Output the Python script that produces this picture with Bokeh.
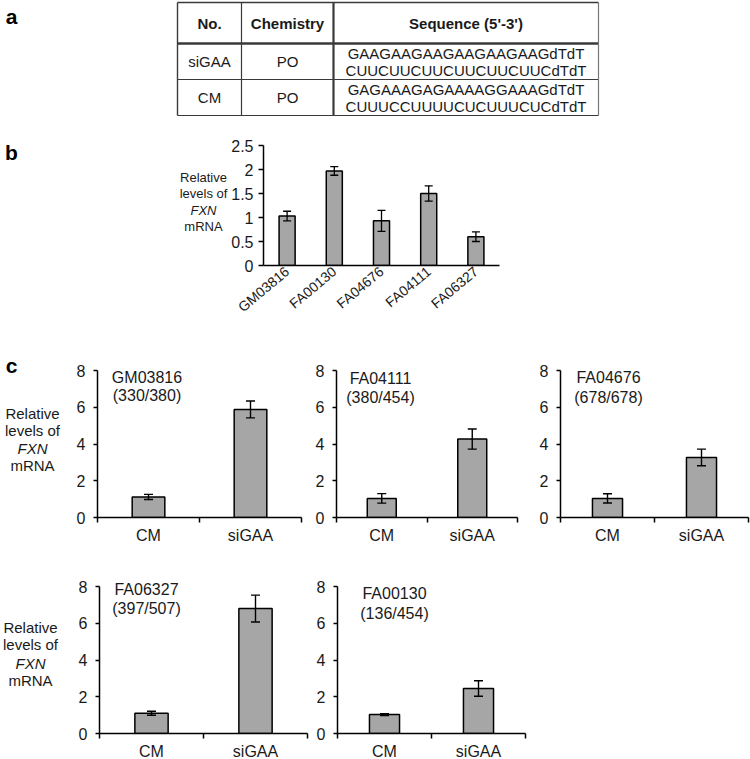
import math
from bokeh.plotting import figure
from bokeh.models import (Range1d, FixedTicker, Label, Whisker, TeeHead,
                          ColumnDataSource)
from bokeh.layouts import column, row
from bokeh.embed import file_html
from bokeh.resources import INLINE
from bokeh.core.properties import value

# ---------------- data ----------------
table_header = ["No.", "Chemistry", "Sequence (5'-3')"]
oligo_names = ["siGAA", "CM"]
oligo_chem = ["PO", "PO"]
oligo_sense = ["GAAGAAGAAGAAGAAGAAGdTdT", "GAGAAAGAGAAAAGGAAAGdTdT"]
oligo_antisense = ["CUUCUUCUUCUUCUUCUUCdTdT", "CUUUCCUUUUCUCUUUCUCdTdT"]

b_lines = ["GM03816", "FA00130", "FA04676", "FA04111", "FA06327"]
b_values = [1.03, 1.97, 0.93, 1.50, 0.60]
b_errors = [0.10, 0.09, 0.22, 0.16, 0.10]
b_ticks = [0, 0.5, 1, 1.5, 2, 2.5]

c_lines = ["GM03816", "FA04111", "FA04676", "FA06327", "FA00130"]
c_repeats = ["(330/380)", "(380/454)", "(678/678)", "(397/507)", "(136/454)"]
c_groups = ["CM", "siGAA"]
c_cm = [1.12, 1.04, 1.04, 1.10, 1.03]
c_cm_err = [0.14, 0.26, 0.25, 0.11, 0.05]
c_sigaa = [5.88, 4.27, 3.27, 6.80, 2.45]
c_sigaa_err = [0.46, 0.55, 0.45, 0.73, 0.42]
c_ticks = [0, 2, 4, 6, 8]

ylabel_lines = ["Relative", "levels of", "FXN", "mRNA"]

# ---------------- styling / layout ----------------
FONT = "Liberation Sans"
INK = "#1a1a1a"
BAR = "#a6a6a6"


def make_fig(box, frame, xr, yr, axes=True):
    x0, y0, x1, y1 = box
    fx0, fy0, fx1, fy1 = frame
    kw = {}
    if not axes:
        kw = dict(x_axis_location=None, y_axis_location=None)
    p = figure(frame_width=fx1 - fx0, frame_height=fy1 - fy0,
               x_range=Range1d(*xr), y_range=Range1d(*yr),
               min_border_left=fx0 - x0, min_border_right=x1 - fx1,
               min_border_top=fy0 - y0, min_border_bottom=y1 - fy1,
               output_backend="svg", toolbar_location=None, **kw)
    p.outline_line_color = None
    p.grid.visible = False
    p.background_fill_color = "white"
    p.border_fill_color = "white"
    return p


def text_fig(box):
    x0, y0, x1, y1 = box
    return make_fig(box, box, (x0, x1), (y1, y0), axes=False)


def put_text(p, xs, ys, texts, size, style="normal", align="center", color=INK):
    p.text(x=xs, y=ys, text=texts, text_font=value(FONT),
           text_font_size=value(size), text_font_style=style,
           text_color=color, text_align=align, text_baseline="middle")


def ylabel_block(p, cx, ys, size):
    for txt, yy in zip(ylabel_lines, ys):
        put_text(p, [cx], [yy], [txt], size, "italic" if txt == "FXN" else "normal")


def style_axes(p, tick_font, xfont):
    for ax in (p.xaxis[0], p.yaxis[0]):
        ax.axis_line_color = "black"
        ax.axis_line_width = 1.5
        ax.major_tick_line_color = "black"
        ax.major_tick_line_width = 1.5
        ax.minor_tick_line_color = "black"
        ax.minor_tick_line_width = 1.5
        ax.major_tick_in = 0
        ax.minor_tick_in = 0
        ax.major_label_text_font = FONT
        ax.major_label_text_color = INK
    p.yaxis.major_label_text_font_size = tick_font
    p.xaxis.major_label_text_font_size = xfont


def add_errors(p, src, size, width):
    p.add_layout(Whisker(source=src, base="x", upper="upper", lower="lower",
                         level="overlay", line_color="black", line_width=width,
                         upper_head=TeeHead(size=size, line_width=width, line_color="black"),
                         lower_head=TeeHead(size=size, line_width=width, line_color="black")))


def wrap(p):
    return column(p)


# ---------------- panel a: table ----------------
fa = text_fig((0, 0, 750, 125))
col_b = [177, 241, 333, 598]
row_b = [2, 43, 79, 115]
fa.segment(x0=[col_b[0]] * 4, x1=[col_b[-1]] * 4, y0=row_b, y1=row_b,
           line_color="#3a3a3a", line_width=[1.4, 2.6, 1.2, 1.2])
fa.segment(x0=col_b, x1=col_b, y0=[row_b[0]] * 4, y1=[row_b[-1]] * 4,
           line_color=["#3a3a3a", "#3a3a3a", "#3a3a3a", "#777777"],
           line_width=[1.4, 1.2, 2.2, 1.2])
ccx = [(col_b[i] + col_b[i + 1]) / 2 for i in range(3)]
rcy = [(row_b[i] + row_b[i + 1]) / 2 for i in range(3)]
put_text(fa, ccx, [rcy[0]] * 3, table_header, "15px", "bold")
n = len(oligo_names)
put_text(fa, [ccx[0]] * n + [ccx[1]] * n, rcy[1:] + rcy[1:],
         oligo_names + oligo_chem, "15px")
put_text(fa, [ccx[2]] * (2 * n), [c - 8.5 for c in rcy[1:]] + [c + 8.5 for c in rcy[1:]],
         oligo_sense + oligo_antisense, "15px")
put_text(fa, [11], [16], ["a"], "21px", "bold", color="black")

# ---------------- panel b ----------------
lab_b = text_fig((0, 125, 228, 335))
put_text(lab_b, [11], [152], ["b"], "21px", "bold", color="black")
ylabel_block(lab_b, 203, [177, 193, 210, 226], "13px")

fb = make_fig((228, 125, 750, 335), (261, 145, 497, 265), (0, len(b_lines)), (0, 2.5))
bx = [i + 0.5 for i in range(len(b_lines))]
bsrc = ColumnDataSource(dict(x=bx, top=b_values,
                             upper=[v + e for v, e in zip(b_values, b_errors)],
                             lower=[v - e for v, e in zip(b_values, b_errors)]))
fb.vbar(x="x", top="top", bottom=0, width=0.34, source=bsrc,
        fill_color=BAR, line_color="black", line_width=1.5)
add_errors(fb, bsrc, 8, 1.3)
style_axes(fb, "16px", "14px")
fb.yaxis.ticker = FixedTicker(ticks=b_ticks, minor_ticks=[])
fb.yaxis.major_tick_out = 5
fb.yaxis.major_label_standoff = 5
fb.xaxis.ticker = FixedTicker(ticks=bx, minor_ticks=[])
fb.xaxis.major_label_overrides = {x: t for x, t in zip(bx, b_lines)}
fb.xaxis.major_tick_out = 0
fb.xaxis.major_label_standoff = 4
fb.xaxis.major_label_orientation = math.radians(40)

# ---------------- panel c ----------------
YMAX = 8.7
c_boxes = [(70, 335, 306, 556), (306, 335, 528, 556), (528, 335, 750, 556),
           (70, 556, 311, 759), (311, 556, 750, 759)]
# (axis left, y of "8", axis right, y of "0")
c_axes = [(97, 370, 301, 517), (336, 370, 517, 517), (560, 370, 748, 517),
          (99, 586, 307, 733), (337, 586, 525, 733)]
c_title_pos = [(146.5, 377, 395), (380, 378, 397), (608, 377, 397),
               (146, 589, 608), (394, 593, 613)]
cfigs = []
gx = [i + 0.5 for i in range(len(c_groups))]
for k in range(len(c_lines)):
    ax0, y8, ax1, y0 = c_axes[k]
    ppu = (y0 - y8) / 8.0
    ftop = int(round(y0 - YMAX * ppu))
    p = make_fig(c_boxes[k], (ax0, ftop, ax1, y0), (0, len(c_groups)), (0, (y0 - ftop) / ppu))
    vals = [c_cm[k], c_sigaa[k]]
    errs = [c_cm_err[k], c_sigaa_err[k]]
    src = ColumnDataSource(dict(x=gx, top=vals,
                                upper=[v + e for v, e in zip(vals, errs)],
                                lower=[v - e for v, e in zip(vals, errs)]))
    p.vbar(x="x", top="top", bottom=0, width=0.32, source=src,
           fill_color=BAR, line_color="black", line_width=1.5)
    add_errors(p, src, 9, 1.4)
    style_axes(p, "16px", "16px")
    p.yaxis.ticker = FixedTicker(ticks=c_ticks, minor_ticks=[])
    p.yaxis.bounds = (0, 8)
    p.yaxis.major_tick_out = 4
    p.yaxis.major_label_standoff = 8
    p.xaxis.ticker = FixedTicker(ticks=gx, minor_ticks=[0, 1, 2])
    p.xaxis.major_label_overrides = {x: t for x, t in zip(gx, c_groups)}
    p.xaxis.major_tick_out = 0
    p.xaxis.minor_tick_out = 5
    p.xaxis.major_label_standoff = 4
    tx, ty1, ty2 = c_title_pos[k]
    xd = (tx - ax0) / (ax1 - ax0) * len(c_groups)
    p.add_layout(Label(x=xd, y=(y0 - ty1) / ppu, text=c_lines[k], text_font=FONT,
                       text_font_size="16px", text_color=INK, text_align="center",
                       text_baseline="middle"))
    p.add_layout(Label(x=xd, y=(y0 - ty2) / ppu, text=c_repeats[k], text_font=FONT,
                       text_font_size="16px", text_color=INK, text_align="center",
                       text_baseline="middle"))
    cfigs.append(p)

lab_c1 = text_fig((0, 335, 70, 556))
put_text(lab_c1, [11], [365], ["c"], "21px", "bold", color="black")
ylabel_block(lab_c1, 32, [413, 430, 448, 465], "15px")
lab_c2 = text_fig((0, 556, 70, 759))
ylabel_block(lab_c2, 30, [627, 644, 663, 680], "15px")

layout = column(
    row(wrap(fa)),
    row(wrap(lab_b), wrap(fb)),
    row(wrap(lab_c1), wrap(cfigs[0]), wrap(cfigs[1]), wrap(cfigs[2])),
    row(wrap(lab_c2), wrap(cfigs[3]), wrap(cfigs[4])),
)

open("out.html", "w").write(file_html(layout, INLINE))
